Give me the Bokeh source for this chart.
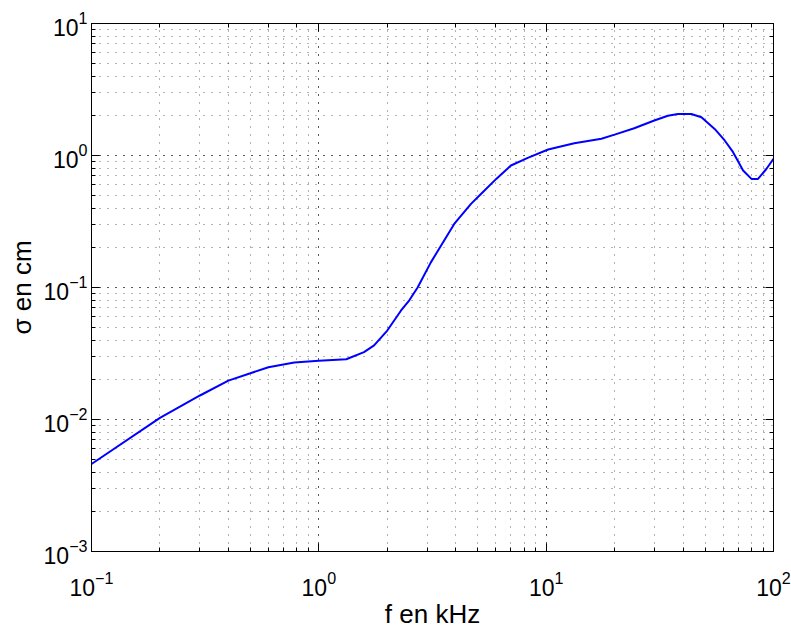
from bokeh.plotting import figure
from bokeh.models import LogAxis, LogTickFormatter, Range1d
from bokeh.embed import file_html
from bokeh.resources import INLINE

# frequency (kHz) and sigma (cm)
freq_khz = [0.1, 0.2, 0.3, 0.4, 0.5, 0.6, 0.78, 1.0, 1.32, 1.58, 1.75, 2.0, 2.3, 2.5,
            2.72, 3.11, 3.94, 4.67, 5.18, 6.03, 7.0, 8.3, 10.2, 13.3, 17.5, 20,
            24.4, 29.9, 34.3, 38, 43.5, 48.2, 55.1, 61, 66.4, 73.5, 80, 85.5, 93, 100]
sigma_cm = [0.0046, 0.0103, 0.0152, 0.0197, 0.0224, 0.0249, 0.027, 0.0279, 0.0286, 0.0324,
            0.0364, 0.0472, 0.067, 0.080, 0.100, 0.155, 0.303, 0.43, 0.513, 0.665,
            0.84, 0.96, 1.11, 1.24, 1.34, 1.44, 1.61, 1.84, 2.0, 2.06, 2.06, 1.95,
            1.59, 1.30, 1.06, 0.77, 0.665, 0.665, 0.79, 0.945]

x_label = "f en kHz"
y_label = "σ en cm"
FONT = "Liberation Sans"

p = figure(width=791, height=632, x_axis_type="log", y_axis_type="log",
           x_range=Range1d(0.1, 100), y_range=Range1d(0.001, 10),
           output_backend="svg", toolbar_location=None,
           min_border_left=91, min_border_right=18, min_border_top=23,
           min_border_bottom=81)

p.line(freq_khz, sigma_cm, line_color="#0000ff", line_width=2)

def style_axis(ax, labels=True):
    ax.axis_line_color = "black"
    ax.major_tick_in = 8
    ax.major_tick_out = 0
    ax.minor_tick_in = 4
    ax.minor_tick_out = 0
    ax.major_tick_line_color = "black"
    ax.minor_tick_line_color = "black"
    if labels:
        ax.formatter = LogTickFormatter()
        ax.major_label_text_font = FONT
        ax.major_label_text_font_size = "23px"
        ax.major_label_text_color = "black"
        ax.axis_label_text_font = FONT
        ax.axis_label_text_font_size = "26px"
        ax.axis_label_text_font_style = "normal"
        ax.axis_label_text_color = "black"
    else:
        ax.major_label_text_font_size = "1px"
        ax.major_label_text_color = None
        ax.major_label_standoff = 0

xa = p.xaxis[0]
ya = p.yaxis[0]
style_axis(xa)
style_axis(ya)
xa.axis_label = x_label
ya.axis_label = y_label
xa.major_label_standoff = 19
xa.axis_label_standoff = 0
ya.major_label_standoff = 4
ya.axis_label_standoff = 4

top = LogAxis()
right = LogAxis()
style_axis(top, labels=False)
style_axis(right, labels=False)
p.add_layout(top, "above")
p.add_layout(right, "right")

for g in (p.xgrid[0], p.ygrid[0]):
    g.grid_line_color = "black"
    g.grid_line_alpha = 0.6
    g.grid_line_dash = "1 7"
    g.minor_grid_line_color = "black"
    g.minor_grid_line_alpha = 0.6
    g.minor_grid_line_dash = "1 7"

p.outline_line_color = "black"
p.background_fill_color = "white"
p.border_fill_color = "white"

open("out.html", "w").write(file_html(p, INLINE))
